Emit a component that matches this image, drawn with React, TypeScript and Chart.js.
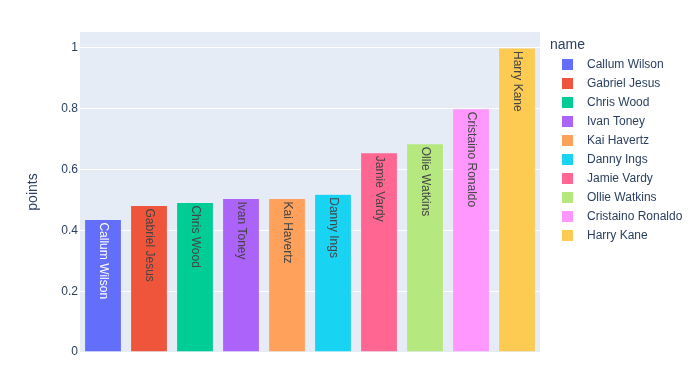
import React, { useEffect, useRef } from "react";
import { Chart, registerables } from "chart.js";

Chart.register(...registerables);

const names = [
  "Callum Wilson",
  "Gabriel Jesus",
  "Chris Wood",
  "Ivan Toney",
  "Kai Havertz",
  "Danny Ings",
  "Jamie Vardy",
  "Ollie Watkins",
  "Cristaino Ronaldo",
  "Harry Kane",
];
const points = [0.436, 0.482, 0.492, 0.505, 0.505, 0.519, 0.655, 0.685, 0.8, 1.0];
const colors = [
  "#636EFA",
  "#EF553B",
  "#00CC96",
  "#AB63FA",
  "#FFA15A",
  "#19D3F3",
  "#FF6692",
  "#B6E880",
  "#FF97FF",
  "#FECB52",
];
const yTickValues = [0, 0.2, 0.4, 0.6, 0.8, 1];
const yTickLabels = ["0", "0.2", "0.4", "0.6", "0.8", "1"];
const yAxisTitle = "points";
const legendTitle = "name";

const FONT = '"Liberation Sans", Arial, sans-serif';
const TEXT_COLOR = "#2a3f5f";
const PLOT_BG = "#E5ECF6";

function isLight(hex: string): boolean {
  const h = hex.replace("#", "");
  const r = parseInt(h.slice(0, 2), 16);
  const g = parseInt(h.slice(2, 4), 16);
  const b = parseInt(h.slice(4, 6), 16);
  return (r * 299 + g * 587 + b * 114) / 1000 >= 128;
}

const bgPlugin = {
  id: "plotBg",
  beforeDraw(chart: any) {
    const { ctx, chartArea } = chart;
    ctx.save();
    ctx.fillStyle = PLOT_BG;
    ctx.fillRect(chartArea.left, chartArea.top, chartArea.right - chartArea.left, chartArea.bottom - chartArea.top);
    ctx.restore();
  },
};

const barTextPlugin = {
  id: "barText",
  afterDatasetsDraw(chart: any) {
    const { ctx } = chart;
    chart.data.datasets.forEach((ds: any, i: number) => {
      const meta = chart.getDatasetMeta(i);
      const el = meta.data[0];
      if (!el) return;
      ctx.save();
      ctx.translate(el.x, el.y + 3);
      ctx.rotate(Math.PI / 2);
      ctx.font = `12px ${FONT}`;
      ctx.textAlign = "left";
      ctx.textBaseline = "middle";
      ctx.fillStyle = isLight(ds.backgroundColor) ? "#444444" : "#ffffff";
      ctx.fillText(ds.label, 0, 0);
      ctx.restore();
    });
  },
};

const legendPlugin = {
  id: "customLegend",
  afterDraw(chart: any) {
    const { ctx, chartArea } = chart;
    const x0 = chartArea.right + 10;
    ctx.save();
    ctx.fillStyle = TEXT_COLOR;
    ctx.font = `14px ${FONT}`;
    ctx.textAlign = "left";
    ctx.textBaseline = "middle";
    ctx.fillText(legendTitle, x0, 45);
    ctx.font = `12px ${FONT}`;
    chart.data.datasets.forEach((ds: any, i: number) => {
      const y = 64.5 + i * 19;
      ctx.fillStyle = ds.backgroundColor;
      ctx.fillRect(x0 + 12, y - 5.5, 11, 11);
      ctx.fillStyle = TEXT_COLOR;
      ctx.fillText(ds.label, x0 + 37, y);
    });
    ctx.restore();
  },
};

export default function App() {
  const canvasRef = useRef<HTMLCanvasElement | null>(null);

  useEffect(() => {
    document.body.style.margin = "0";
    const canvas = canvasRef.current;
    if (!canvas) return;
    const chart = new Chart(canvas, {
      type: "bar",
      data: {
        labels: names,
        datasets: names.map((n, i) => ({
          label: n,
          data: [{ x: n, y: points[i] }],
          backgroundColor: colors[i],
          borderColor: PLOT_BG,
          borderWidth: 0.5,
          grouped: false,
          barPercentage: 0.8,
          categoryPercentage: 1.0,
        })),
      } as any,
      options: {
        animation: false,
        responsive: false,
        devicePixelRatio: 1,
        layout: { padding: { left: 0, right: 160, top: 32, bottom: 21 } },
        plugins: {
          legend: { display: false },
          tooltip: { enabled: false },
        },
        scales: {
          x: {
            type: "category",
            display: false,
          },
          y: {
            min: 0,
            max: 1.0526,
            afterFit(scale: any) {
              scale.width = 80;
            },
            afterBuildTicks(scale: any) {
              scale.ticks = yTickValues.map((v) => ({ value: v }));
            },
            grid: { color: "#ffffff", lineWidth: 1, drawTicks: false },
            border: { display: false },
            ticks: {
              padding: 2,
              color: TEXT_COLOR,
              font: { family: FONT, size: 12 },
              callback: (_v: any, idx: number) => yTickLabels[idx],
            },
            title: {
              display: true,
              text: yAxisTitle,
              color: TEXT_COLOR,
              font: { family: FONT, size: 14 },
              padding: { top: 24.5, bottom: 0 },
            },
          },
        },
      },
      plugins: [bgPlugin, barTextPlugin, legendPlugin],
    });
    return () => chart.destroy();
  }, []);

  return (
    <div style={{ position: "absolute", left: 0, top: 0, width: 700, height: 373 }}>
      <canvas ref={canvasRef} width={700} height={373} />
    </div>
  );
}
